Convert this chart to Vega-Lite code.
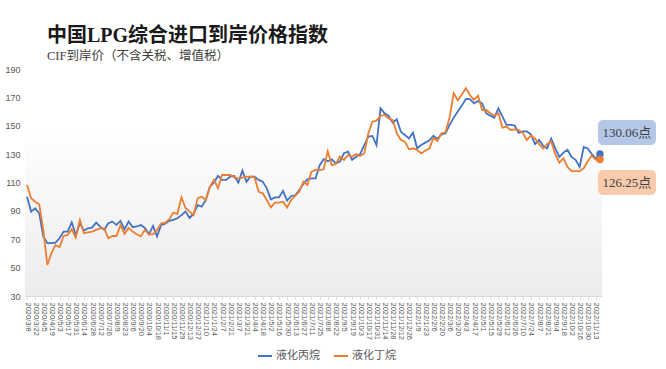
{
"$schema": "https://vega.github.io/schema/vega-lite/v6.json",
"width": 577, "height": 227,
"autosize": {"type": "none"},
"padding": {"left": 25, "top": 69, "right": 64, "bottom": 73},
"background": "white",
"config": {"font": "Noto Sans CJK SC", "view": {"stroke": null, "fill": {"gradient": "linear", "x1": 0, "y1": 0, "x2": 0, "y2": 1, "stops": [{"offset": 0, "color": "#ffffff"}, {"offset": 0.25, "color": "#ffffff"}, {"offset": 1, "color": "#ececec"}]}}},
"title": {"text": "中国LPG综合进口到岸价格指数", "subtitle": "CIF到岸价（不含关税、增值税）", "anchor": "start", "frame": "group", "dx": 22, "font": "Liberation Serif, Noto Sans CJK SC", "subtitleFont": "Liberation Serif, Noto Sans CJK SC", "fontSize": 20, "fontWeight": "bold", "color": "#1a1a1a", "subtitleFontSize": 12.5, "subtitleColor": "#404040", "subtitlePadding": 4, "offset": 3},
"datasets": {
"notes": [{"s": "液化丙烷", "label": "130.06点"}, {"s": "液化丁烷", "label": "126.25点"}],
"main": [
{"d":"2020/3/8","液化丙烷":100,"液化丁烷":108.3},
{"d":"2020/3/15","液化丙烷":89.5,"液化丁烷":98.9},
{"d":"2020/3/22","液化丙烷":91.8,"液化丁烷":96.5},
{"d":"2020/3/29","液化丙烷":88.3,"液化丁烷":94.7},
{"d":"2020/4/5","液化丙烷":72,"液化丁烷":76.6},
{"d":"2020/4/12","液化丙烷":67.2,"液化丁烷":51.9},
{"d":"2020/4/19","液化丙烷":67.2,"液化丁烷":60.1},
{"d":"2020/4/26","液化丙烷":67.6,"液化丁烷":66},
{"d":"2020/5/3","液化丙烷":70.7,"液化丁烷":64.4},
{"d":"2020/5/10","液化丙烷":75.4,"液化丁烷":72.3},
{"d":"2020/5/17","液化丙烷":75.4,"液化丁烷":73},
{"d":"2020/5/24","液化丙烷":82,"液化丁烷":77},
{"d":"2020/5/31","液化丙烷":73,"液化丁烷":71.2},
{"d":"2020/6/7","液化丙烷":81.3,"液化丁烷":83.6},
{"d":"2020/6/14","液化丙烷":76.1,"液化丁烷":74.2},
{"d":"2020/6/21","液化丙烷":77.7,"液化丁烷":74.9},
{"d":"2020/6/28","液化丙烷":78.2,"液化丁烷":75.4},
{"d":"2020/7/5","液化丙烷":81.7,"液化丁烷":76.6},
{"d":"2020/7/12","液化丙烷":78.9,"液化丁烷":77.7},
{"d":"2020/7/19","液化丙烷":76.6,"液化丁烷":77.7},
{"d":"2020/7/26","液化丙烷":81.3,"液化丁烷":70.7},
{"d":"2020/8/2","液化丙烷":82.4,"液化丁烷":72.3},
{"d":"2020/8/9","液化丙烷":80.1,"液化丁烷":72.3},
{"d":"2020/8/16","液化丙烷":82.9,"液化丁烷":80},
{"d":"2020/8/23","液化丙烷":77,"液化丁烷":73.8},
{"d":"2020/8/30","液化丙烷":82.5,"液化丁烷":78},
{"d":"2020/9/6","液化丙烷":78.5,"液化丁烷":75.4},
{"d":"2020/9/13","液化丙烷":79,"液化丁烷":73.5},
{"d":"2020/9/20","液化丙烷":80,"液化丁烷":72},
{"d":"2020/9/27","液化丙烷":78,"液化丁烷":76.6},
{"d":"2020/10/4","液化丙烷":73.5,"液化丁烷":73.5},
{"d":"2020/10/11","液化丙烷":79.4,"液化丁烷":73.5},
{"d":"2020/10/18","液化丙烷":72,"液化丁烷":76.6},
{"d":"2020/10/25","液化丙烷":80,"液化丁烷":81},
{"d":"2020/11/1","液化丙烷":81,"液化丁烷":81.7},
{"d":"2020/11/8","液化丙烷":83,"液化丁烷":84},
{"d":"2020/11/15","液化丙烷":83.6,"液化丁烷":88.8},
{"d":"2020/11/22","液化丙烷":84.8,"液化丁烷":87.8},
{"d":"2020/11/29","液化丙烷":87,"液化丁烷":99.6},
{"d":"2020/12/6","液化丙烷":89.5,"液化丁烷":92},
{"d":"2020/12/13","液化丙烷":85,"液化丁烷":89.5},
{"d":"2020/12/20","液化丙烷":88,"液化丁烷":87},
{"d":"2020/12/27","液化丙烷":94,"液化丁烷":99},
{"d":"2021/1/3","液化丙烷":93,"液化丁烷":100},
{"d":"2021/1/10","液化丙烷":97.7,"液化丁烷":97.7},
{"d":"2021/1/17","液化丙烷":107,"液化丁烷":107},
{"d":"2021/1/24","液化丙烷":110,"液化丁烷":111.8},
{"d":"2021/1/31","液化丙烷":114.6,"液化丁烷":106},
{"d":"2021/2/7","液化丙烷":111.8,"液化丁烷":115.3},
{"d":"2021/2/14","液化丙烷":111.8,"液化丁烷":115.3},
{"d":"2021/2/21","液化丙烷":114.1,"液化丁烷":115.3},
{"d":"2021/2/28","液化丙烷":114.6,"液化丁烷":113.6},
{"d":"2021/3/7","液化丙烷":109.9,"液化丁烷":112.9},
{"d":"2021/3/14","液化丙烷":118.3,"液化丁烷":113.4},
{"d":"2021/3/21","液化丙烷":110.6,"液化丁烷":114.1},
{"d":"2021/3/28","液化丙烷":114.1,"液化丁烷":114.1},
{"d":"2021/4/4","液化丙烷":114.1,"液化丁烷":113.6},
{"d":"2021/4/11","液化丙烷":111.8,"液化丁烷":103.5},
{"d":"2021/4/18","液化丙烷":110.6,"液化丁烷":102.4},
{"d":"2021/4/25","液化丙烷":105.9,"液化丁烷":97.7},
{"d":"2021/5/2","液化丙烷":98.1,"液化丁烷":92.5},
{"d":"2021/5/9","液化丙烷":99.5,"液化丁烷":95.8},
{"d":"2021/5/16","液化丙烷":99.5,"液化丁烷":95.8},
{"d":"2021/5/23","液化丙烷":104,"液化丁烷":96.5},
{"d":"2021/5/30","液化丙烷":97.2,"液化丁烷":92.3},
{"d":"2021/6/6","液化丙烷":100.5,"液化丁烷":97.7},
{"d":"2021/6/13","液化丙烷":101,"液化丁烷":100.5},
{"d":"2021/6/20","液化丙烷":104.7,"液化丁烷":103.5},
{"d":"2021/6/27","液化丙烷":108.9,"液化丁烷":110.6},
{"d":"2021/7/4","液化丙烷":112.2,"液化丁烷":108.2},
{"d":"2021/7/11","液化丙烷":112.9,"液化丁烷":117.6},
{"d":"2021/7/18","液化丙烷":112.9,"液化丁烷":118.8},
{"d":"2021/7/25","液化丙烷":122,"液化丁烷":118.8},
{"d":"2021/8/1","液化丙烷":126.5,"液化丁烷":119.3},
{"d":"2021/8/8","液化丙烷":125,"液化丁烷":132},
{"d":"2021/8/15","液化丙烷":126.3,"液化丁烷":122.3},
{"d":"2021/8/22","液化丙烷":123.5,"液化丁烷":123},
{"d":"2021/8/29","液化丙烷":124.7,"液化丁烷":128.2},
{"d":"2021/9/5","液化丙烷":130.6,"液化丁烷":125.9},
{"d":"2021/9/12","液化丙烷":131.7,"液化丁烷":129.4},
{"d":"2021/9/19","液化丙烷":125.9,"液化丁烷":128.2},
{"d":"2021/9/26","液化丙烷":128.2,"液化丁烷":130.1},
{"d":"2021/10/3","液化丙烷":130.1,"液化丁烷":128.7},
{"d":"2021/10/10","液化丙烷":136.4,"液化丁烷":130.6},
{"d":"2021/10/17","液化丙烷":142.3,"液化丁烷":144.7},
{"d":"2021/10/24","液化丙烷":142.8,"液化丁烷":152.9},
{"d":"2021/10/31","液化丙烷":136.4,"液化丁烷":153.6},
{"d":"2021/11/7","液化丙烷":162.3,"液化丁烷":156.9},
{"d":"2021/11/14","液化丙烷":158.8,"液化丁烷":157.6},
{"d":"2021/11/21","液化丙烷":156.9,"液化丁烷":155.2},
{"d":"2021/11/28","液化丙烷":152.2,"液化丁烷":154.1},
{"d":"2021/12/5","液化丙烷":154.5,"液化丁烷":144.7},
{"d":"2021/12/12","液化丙烷":145.8,"液化丁烷":140},
{"d":"2021/12/19","液化丙烷":143.5,"液化丁烷":138.8},
{"d":"2021/12/26","液化丙烷":141.1,"液化丁烷":133.4},
{"d":"2022/1/2","液化丙烷":145.1,"液化丁烷":134.1},
{"d":"2022/1/9","液化丙烷":134.1,"液化丁烷":132.9},
{"d":"2022/1/16","液化丙烷":136.4,"液化丁烷":130.6},
{"d":"2022/1/23","液化丙烷":138.1,"液化丁烷":132.4},
{"d":"2022/1/30","液化丙烷":139.5,"液化丁烷":133.9},
{"d":"2022/2/6","液化丙烷":143,"液化丁烷":141.2},
{"d":"2022/2/13","液化丙烷":140.7,"液化丁烷":139.3},
{"d":"2022/2/20","液化丙烷":144,"液化丁烷":144.7},
{"d":"2022/2/27","液化丙烷":144.7,"液化丁烷":145.4},
{"d":"2022/3/6","液化丙烷":150.6,"液化丁烷":156},
{"d":"2022/3/13","液化丙烷":155.7,"液化丁烷":173},
{"d":"2022/3/20","液化丙烷":160,"液化丁烷":168},
{"d":"2022/3/27","液化丙烷":164.2,"液化丁烷":172},
{"d":"2022/4/3","液化丙烷":168.9,"液化丁烷":176.4},
{"d":"2022/4/10","液化丙烷":168.7,"液化丁烷":171.7},
{"d":"2022/4/17","液化丙烷":165.8,"液化丁烷":168.2},
{"d":"2022/4/24","液化丙烷":167.5,"液化丁烷":171.2},
{"d":"2022/5/1","液化丙烷":165.8,"液化丁烷":161.1},
{"d":"2022/5/8","液化丙烷":158.8,"液化丁烷":161.1},
{"d":"2022/5/15","液化丙烷":157.1,"液化丁烷":158.8},
{"d":"2022/5/22","液化丙烷":155.7,"液化丁烷":157.1},
{"d":"2022/5/29","液化丙烷":162.3,"液化丁烷":158.8},
{"d":"2022/6/5","液化丙烷":156.4,"液化丁烷":148.7},
{"d":"2022/6/12","液化丙烷":150.6,"液化丁烷":149.4},
{"d":"2022/6/19","液化丙烷":150.6,"液化丁烷":147},
{"d":"2022/6/26","液化丙烷":150.1,"液化丁烷":147.5},
{"d":"2022/7/3","液化丙烷":145,"液化丁烷":147},
{"d":"2022/7/10","液化丙烷":146,"液化丁烷":145},
{"d":"2022/7/17","液化丙烷":146,"液化丁烷":140},
{"d":"2022/7/24","液化丙烷":144,"液化丁烷":143},
{"d":"2022/7/31","液化丙烷":137,"液化丁烷":141},
{"d":"2022/8/7","液化丙烷":140,"液化丁烷":137},
{"d":"2022/8/14","液化丙烷":136,"液化丁烷":134},
{"d":"2022/8/21","液化丙烷":134,"液化丁烷":137},
{"d":"2022/8/28","液化丙烷":141,"液化丁烷":139},
{"d":"2022/9/4","液化丙烷":134,"液化丁烷":130},
{"d":"2022/9/11","液化丙烷":128,"液化丁烷":124},
{"d":"2022/9/18","液化丙烷":131,"液化丁烷":127},
{"d":"2022/9/25","液化丙烷":133,"液化丁烷":121},
{"d":"2022/10/2","液化丙烷":128,"液化丁烷":118},
{"d":"2022/10/9","液化丙烷":126,"液化丁烷":118},
{"d":"2022/10/16","液化丙烷":121,"液化丁烷":118},
{"d":"2022/10/23","液化丙烷":135,"液化丁烷":120},
{"d":"2022/10/30","液化丙烷":134,"液化丁烷":125},
{"d":"2022/11/6","液化丙烷":130,"液化丁烷":129},
{"d":"2022/11/13","液化丙烷":127,"液化丁烷":126},
{"d":"2022/11/20","液化丙烷":130.06,"液化丁烷":126.25}
]},
"data": {"name": "main"},
"transform": [{"fold": ["液化丙烷", "液化丁烷"], "as": ["s", "v"]}],
"encoding": {
"x": {"field": "d", "type": "ordinal", "sort": null, "scale": {"type": "point", "padding": 0.5},
 "axis": {"title": null, "labelAngle": 90, "labelFontSize": 7.5, "labelFont": "Liberation Sans", "labelColor": "#595959", "labelPadding": 3, "labelOverlap": false, "domainColor": "#d9d9d9", "tickColor": "#d9d9d9", "tickSize": 3, "grid": false,
 "values": ["2020/3/8","2020/3/22","2020/4/5","2020/4/19","2020/5/3","2020/5/17","2020/5/31","2020/6/14","2020/6/28","2020/7/12","2020/7/26","2020/8/9","2020/8/23","2020/9/6","2020/9/20","2020/10/4","2020/10/18","2020/11/1","2020/11/15","2020/11/29","2020/12/13","2020/12/27","2021/1/10","2021/1/24","2021/2/7","2021/2/21","2021/3/7","2021/3/21","2021/4/4","2021/4/18","2021/5/2","2021/5/16","2021/5/30","2021/6/13","2021/6/27","2021/7/11","2021/7/25","2021/8/8","2021/8/22","2021/9/5","2021/9/19","2021/10/3","2021/10/17","2021/10/31","2021/11/14","2021/11/28","2021/12/12","2021/12/26","2022/1/9","2022/1/23","2022/2/6","2022/2/20","2022/3/6","2022/3/20","2022/4/3","2022/4/17","2022/5/1","2022/5/15","2022/5/29","2022/6/12","2022/6/26","2022/7/10","2022/7/24","2022/8/7","2022/8/21","2022/9/4","2022/9/18","2022/10/2","2022/10/16","2022/10/30","2022/11/13"]}},
"y": {"field": "v", "type": "quantitative", "scale": {"domain": [30, 190], "nice": false, "zero": false},
 "axis": {"title": null, "values": [30,50,70,90,110,130,150,170,190], "domain": false, "ticks": false, "grid": false, "labelFontSize": 9, "labelFont": "Liberation Sans", "labelColor": "#595959", "labelPadding": 5}}
},
"layer": [
{"mark": {"type": "line", "strokeWidth": 1.8},
 "encoding": {"color": {"field": "s", "type": "nominal", "scale": {"domain": ["液化丙烷", "液化丁烷"], "range": ["#4472C4", "#ED7D31"]},
  "legend": {"orient": "none", "legendX": 232, "legendY": 279, "direction": "horizontal", "title": null, "symbolType": "stroke", "symbolStrokeWidth": 2, "symbolSize": 196, "labelFontSize": 11, "labelColor": "#595959", "columnPadding": 10, "labelOffset": 3}}}},
{"transform": [{"filter": "datum.d === '2022/11/20'"}],
 "mark": {"type": "point", "filled": true, "size": 55, "opacity": 1},
 "encoding": {"color": {"field": "s", "type": "nominal", "legend": null}}},
{"transform": [{"filter": "datum.d === '2022/11/20' && datum.s === '液化丙烷'"}, {"lookup": "s", "from": {"data": {"name": "notes"}, "key": "s", "fields": ["label"]}}],
 "layer": [
  {"mark": {"type": "rect", "fill": "#B4C7E7", "cornerRadius": 5, "xOffset": -2, "x2Offset": 56, "yOffset": -34, "y2Offset": -9},
   "encoding": {"x2": {"field": "d"}, "y2": {"field": "v"}}},
  {"mark": {"type": "text", "fontSize": 13, "font": "Liberation Serif, Noto Sans CJK SC", "color": "#404040", "dx": 27, "dy": -21, "align": "center", "baseline": "middle"},
   "encoding": {"text": {"field": "label"}}}
 ]},
{"transform": [{"filter": "datum.d === '2022/11/20' && datum.s === '液化丁烷'"}, {"lookup": "s", "from": {"data": {"name": "notes"}, "key": "s", "fields": ["label"]}}],
 "layer": [
  {"mark": {"type": "rect", "fill": "#F8CBAD", "cornerRadius": 5, "xOffset": -2, "x2Offset": 56, "yOffset": 10.5, "y2Offset": 35.5},
   "encoding": {"x2": {"field": "d"}, "y2": {"field": "v"}}},
  {"mark": {"type": "text", "fontSize": 13, "font": "Liberation Serif, Noto Sans CJK SC", "color": "#404040", "dx": 27, "dy": 23.5, "align": "center", "baseline": "middle"},
   "encoding": {"text": {"field": "label"}}}
 ]}
]
}
